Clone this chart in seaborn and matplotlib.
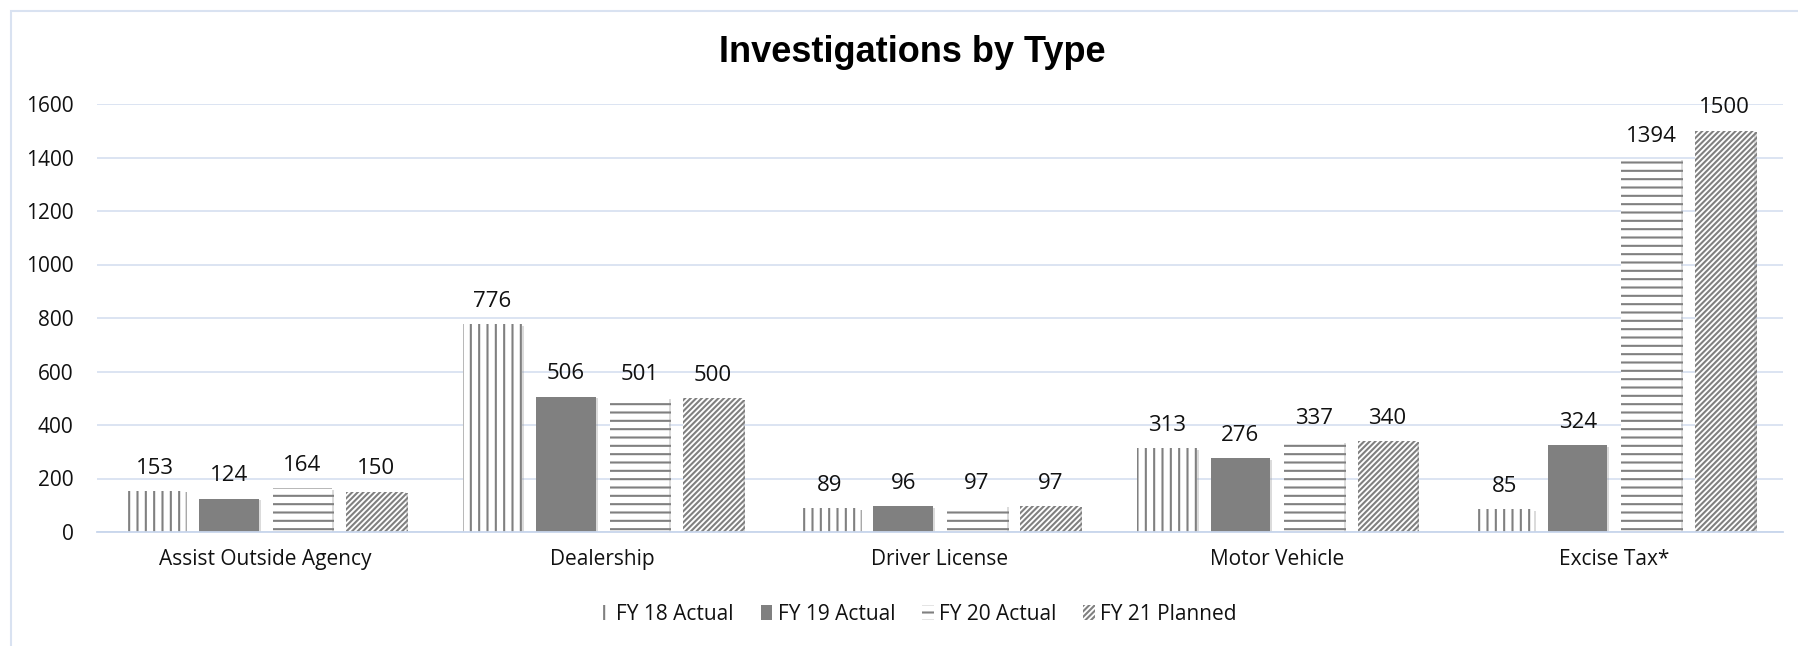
import matplotlib
matplotlib.use("Agg")
import matplotlib.pyplot as plt
import matplotlib.patheffects as pe
import seaborn as sns
import pandas as pd
from matplotlib.patches import Patch, Rectangle

categories = ["Assist Outside Agency", "Dealership", "Driver License", "Motor Vehicle", "Excise Tax*"]
series = ["FY 18 Actual", "FY 19 Actual", "FY 20 Actual", "FY 21 Planned"]
fy18 = [153, 776, 89, 313, 85]
fy19 = [124, 506, 96, 276, 324]
fy20 = [164, 501, 97, 337, 1394]
fy21 = [150, 500, 97, 340, 1500]
yticks = [0, 200, 400, 600, 800, 1000, 1200, 1400, 1600]
title = "Investigations by Type"

rows = []
for s, vals in zip(series, [fy18, fy19, fy20, fy21]):
    for c, v in zip(categories, vals):
        rows.append({"Category": c, "Series": s, "Count": v})
df = pd.DataFrame(rows)

sns.set_theme(style="white")
plt.rcParams["font.family"] = ["Open Sans", "DejaVu Sans"]
plt.rcParams["hatch.linewidth"] = 1.5

GRAY = "#808080"
GRID = "#D9E2F1"
TXT = "#111111"

fig = plt.figure(figsize=(17.98, 6.46), dpi=100)
ax = fig.add_axes([97 / 1798, 1 - 532 / 646, (1783 - 97) / 1798, (532 - 104) / 646])

sns.barplot(data=df, x="Category", y="Count", hue="Series", order=categories,
            hue_order=series, width=0.872, gap=0.19, errorbar=None,
            palette=[GRAY] * 4, legend=False, ax=ax)

styles = [
    dict(facecolor="white", hatch="||"),
    dict(facecolor=GRAY, hatch=None),
    dict(facecolor="white", hatch="--"),
    dict(facecolor="white", hatch="//////"),
]
shadow = [pe.SimplePatchShadow(offset=(1.5, -1.0), shadow_rgbFace="#999999", alpha=0.35), pe.Normal()]
for cont, st in zip(ax.containers, styles):
    for p in cont:
        p.set_facecolor(st["facecolor"])
        p.set_edgecolor(GRAY)
        p.set_linewidth(0)
        if st["hatch"]:
            p.set_hatch(st["hatch"])
        p.set_path_effects(shadow)
    ax.bar_label(cont, fmt="%d", padding=9, fontsize=16, color=TXT)

ax.set_ylim(0, 1600)
ax.set_yticks(yticks)
ax.set_xlim(-0.5, len(categories) - 0.5)
ax.yaxis.grid(True, color=GRID, linewidth=1.3)
ax.set_axisbelow(True)
for side in ["left", "right", "top"]:
    ax.spines[side].set_visible(False)
ax.spines["bottom"].set_color("#C8D6EC")
ax.spines["bottom"].set_linewidth(1.3)
ax.tick_params(axis="y", length=0, pad=17, labelsize=15, labelcolor=TXT)
ax.tick_params(axis="x", which="major", length=0, pad=12, labelsize=15, labelcolor=TXT)
ax.set_xticks([i - 0.5 for i in range(len(categories) + 1)], minor=True)
ax.tick_params(axis="x", which="minor", length=6, width=1.3, color="#C8D6EC")
ax.set_xlabel("")
ax.set_ylabel("")

fig.text((97 + 1783) / 2 / 1798 - 0.0155, 1 - 53 / 646, title, ha="center", va="center",
         fontsize=26, fontweight="bold", family=["Liberation Sans", "DejaVu Sans"], color="black")

handles = [Patch(facecolor=st["facecolor"], edgecolor=GRAY, linewidth=0, hatch=st["hatch"])
           for st in styles]
fig.legend(handles, series, loc="center", bbox_to_anchor=(918 / 1798, 1 - 614 / 646),
           ncol=4, frameon=False, fontsize=15, handlelength=0.55, handleheight=0.7,
           handletextpad=0.25, columnspacing=1.3, labelcolor=TXT)

fig.patches.append(Rectangle((11 / 1798, -0.2), 1.2, 1.2 - 11 / 646, transform=fig.transFigure,
                             fill=False, edgecolor=GRID, linewidth=1.5, zorder=-1))

fig.savefig("out.png", dpi=100)
